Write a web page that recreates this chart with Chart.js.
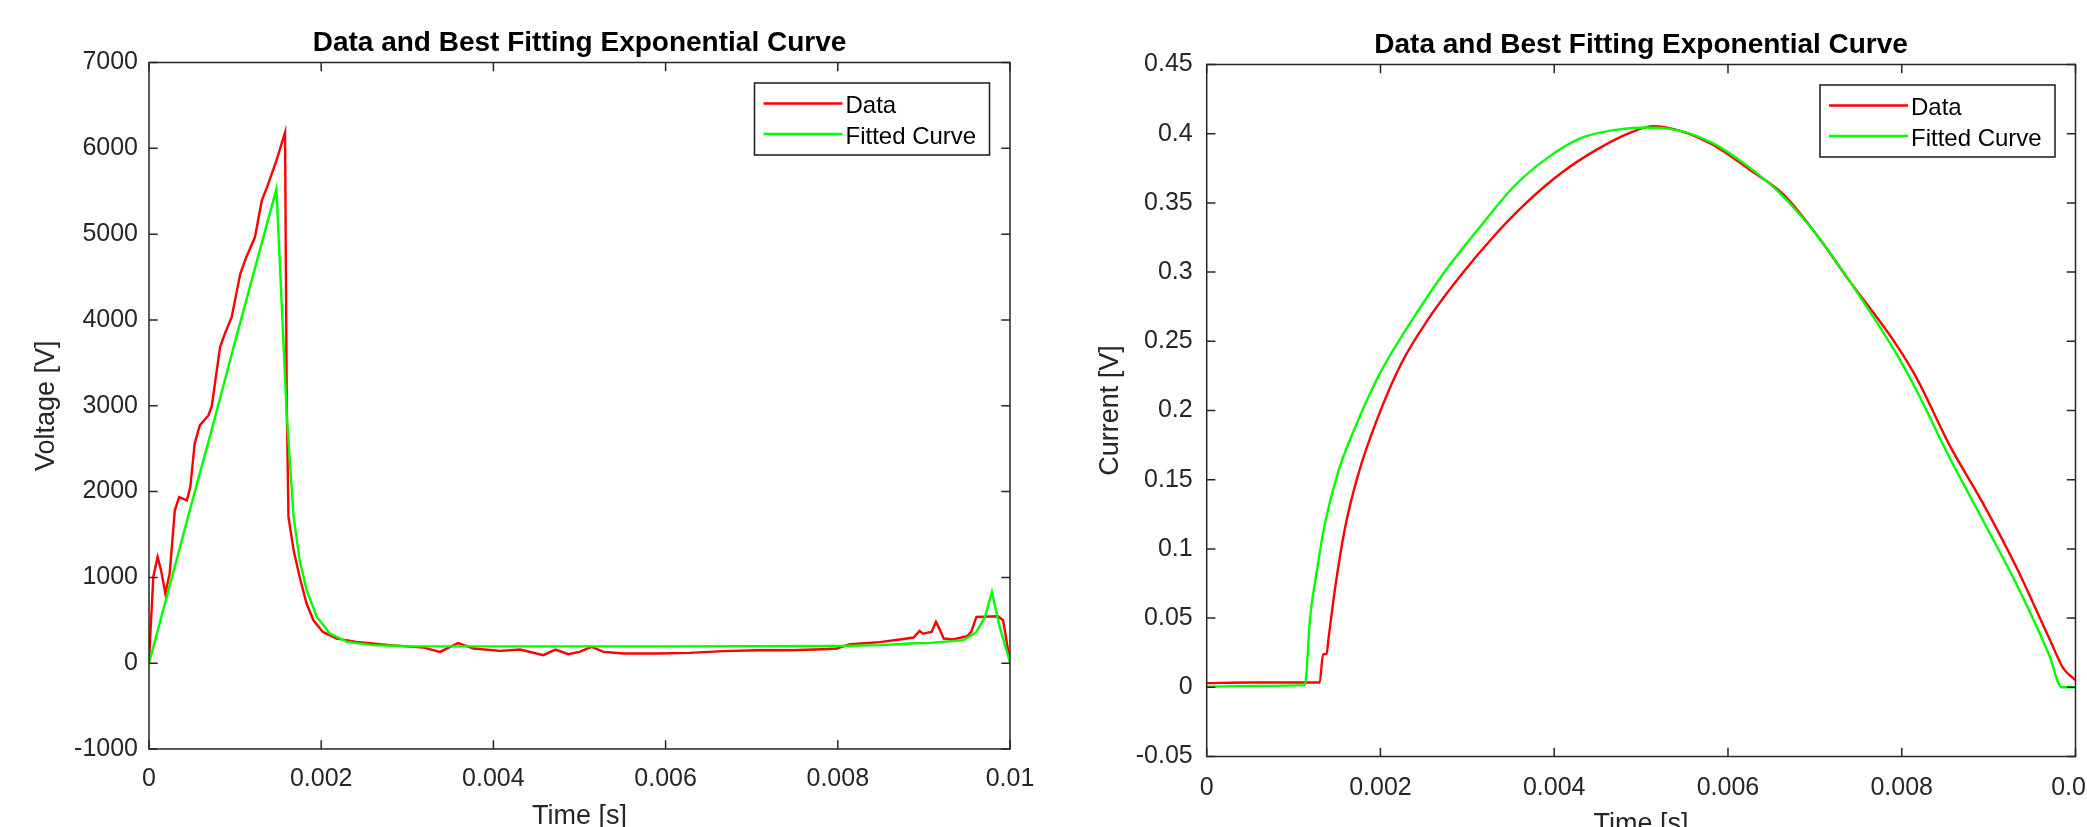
<!DOCTYPE html>
<html>
<head>
<meta charset="utf-8">
<script src="https://cdn.jsdelivr.net/npm/chart.js@4.4.1/dist/chart.umd.min.js"></script>
<style>
  html, body { margin: 0; padding: 0; background: #fff; width: 2087px; height: 827px; overflow: hidden; }
  .plot { position: absolute; top: 0; height: 850px; }
  #voltBox { left: 0; width: 1055px; }
  #currBox { left: 1050px; width: 1071px; }
</style>
</head>
<body>
<div class="plot" id="voltBox"><canvas id="voltageChart"></canvas></div>
<div class="plot" id="currBox"><canvas id="currentChart"></canvas></div>
<script>
// 坐标轴刻度
const timeTicks = [0, 0.002, 0.004, 0.006, 0.008, 0.01];
const timeTickLabels = ['0', '0.002', '0.004', '0.006', '0.008', '0.01'];
const voltageTicks = [-1000, 0, 1000, 2000, 3000, 4000, 5000, 6000, 7000];
const voltageTickLabels = ['-1000', '0', '1000', '2000', '3000', '4000', '5000', '6000', '7000'];
const currentTicks = [-0.05, 0, 0.05, 0.1, 0.15, 0.2, 0.25, 0.3, 0.35, 0.4, 0.45];
const currentTickLabels = ['-0.05', '0', '0.05', '0.1', '0.15', '0.2', '0.25', '0.3', '0.35', '0.4', '0.45'];

// 电压数据 (Data)
const voltageTime = [0, 0.00005, 0.0001, 0.00014, 0.00019, 0.00024, 0.0003, 0.00035, 0.00044, 0.00048,
  0.00053, 0.00059, 0.00069, 0.00073, 0.000825, 0.00088, 0.00096, 0.00106, 0.00113, 0.00123,
  0.00131, 0.00137, 0.00148, 0.00158, 0.0016, 0.00162, 0.00168, 0.00175, 0.00183, 0.00191,
  0.00202, 0.00218, 0.00241, 0.0028, 0.00319, 0.00338, 0.00359, 0.00377, 0.00408, 0.00431,
  0.00458, 0.00472, 0.00487, 0.005, 0.00514, 0.00528, 0.00551, 0.0059, 0.00628, 0.00667,
  0.00706, 0.00744, 0.00783, 0.00799, 0.00814, 0.00849, 0.00872, 0.00888, 0.00895, 0.00899,
  0.00909, 0.00914, 0.00917, 0.00923, 0.00934, 0.0095, 0.00955, 0.00961, 0.00986, 0.00992, 0.01];
const voltageData = [30, 1005, 1238, 1083, 811, 1044, 1781, 1936, 1898, 2052,
  2557, 2771, 2887, 3000, 3682, 3838, 4032, 4537, 4730, 4963,
  5390, 5545, 5856, 6185, 3000, 1703, 1315, 1005, 695, 500,
  364, 287, 248, 210, 182, 132, 235, 171, 143, 159,
  93, 159, 105, 132, 190, 132, 113, 113, 120, 140,
  151, 151, 163, 171, 221, 245, 276, 299, 376, 345,
  364, 481, 423, 287, 276, 314, 364, 539, 547, 500, 15];

// 电压拟合曲线 (Fitted Curve)
const voltageFitTime = [0, 0.0005, 0.00075, 0.001, 0.00148, 0.0016, 0.00164, 0.00168, 0.00175, 0.00183,
  0.00195, 0.0021, 0.0023, 0.0026, 0.003, 0.004, 0.006, 0.008, 0.00849, 0.00884,
  0.00907, 0.00946, 0.00961, 0.00971, 0.00979, 0.00988, 0.01];
const voltageFit = [0, 1880, 2800, 3750, 5525, 2900, 2285, 1703, 1199, 850,
  539, 345, 248, 210, 198, 196, 196, 200, 210, 229,
  237, 268, 364, 539, 830, 423, 15];

// 电流数据 (Data)
const currentTime = [0, 0.0005, 0.001, 0.0013, 0.00134, 0.00138, 0.0014, 0.00148, 0.00159, 0.00174,
  0.00197, 0.00224, 0.00255, 0.00293, 0.00332, 0.00366, 0.0041, 0.00449, 0.00487, 0.00514,
  0.00545, 0.00583, 0.00625, 0.00664, 0.00702, 0.0074, 0.0079, 0.00817, 0.00855, 0.00894,
  0.00932, 0.0097, 0.00986, 0.01];
const currentData = [0.003, 0.0035, 0.0035, 0.0035, 0.024, 0.024, 0.034, 0.0725, 0.1145, 0.153,
  0.195, 0.234, 0.266, 0.298, 0.327, 0.349, 0.3725, 0.3885, 0.4006, 0.4055,
  0.4021, 0.3918, 0.374, 0.356, 0.327, 0.2935, 0.251, 0.2236, 0.175, 0.1324,
  0.0867, 0.035, 0.0137, 0.0052];

// 电流拟合曲线 (Fitted Curve)
const currentFitTime = [0, 0.0006, 0.00113, 0.00119, 0.00127, 0.00136, 0.00151, 0.00171, 0.00197, 0.00214,
  0.00236, 0.00276, 0.00315, 0.00353, 0.00391, 0.0043, 0.00468, 0.00506, 0.00545, 0.00583,
  0.00621, 0.0066, 0.00702, 0.0074, 0.0079, 0.00817, 0.00855, 0.00894, 0.00932, 0.0097,
  0.00984, 0.01];
const currentFit = [0.0005, 0.001, 0.0016, 0.05, 0.085, 0.118, 0.155, 0.188, 0.224, 0.243,
  0.265, 0.302, 0.333, 0.3615, 0.382, 0.3966, 0.4026, 0.4045, 0.4021, 0.393,
  0.3773, 0.3569, 0.327, 0.2935, 0.245, 0.2145, 0.166, 0.12, 0.0746, 0.0228,
  0, 0];

Chart.defaults.font.family = '"Liberation Sans", Arial, sans-serif';
Chart.defaults.color = '#262626';

const toPoints = (xs, ys) => xs.map((x, i) => ({ x: x, y: ys[i] }));

// 坐标框、内向刻度和图例
const matlabAxes = {
  id: 'matlabAxes',
  afterDatasetsDraw(chart) {
    const { ctx, chartArea: a, scales: { x, y } } = chart;
    const tl = 8.7;
    ctx.save();
    ctx.strokeStyle = '#262626';
    ctx.lineWidth = 1.5;
    ctx.beginPath();
    x.ticks.forEach(t => {
      const px = x.getPixelForValue(t.value);
      ctx.moveTo(px, a.bottom); ctx.lineTo(px, a.bottom - tl);
      ctx.moveTo(px, a.top); ctx.lineTo(px, a.top + tl);
    });
    y.ticks.forEach(t => {
      const py = y.getPixelForValue(t.value);
      ctx.moveTo(a.left, py); ctx.lineTo(a.left + tl, py);
      ctx.moveTo(a.right, py); ctx.lineTo(a.right - tl, py);
    });
    ctx.stroke();
    ctx.strokeRect(a.left, a.top, a.right - a.left, a.bottom - a.top);

    // 图例
    const w = 235, h = 72;
    const left = a.right - 20.5 - w, top = a.top + 20.5;
    ctx.fillStyle = '#fff';
    ctx.fillRect(left, top, w, h);
    ctx.strokeStyle = '#262626';
    ctx.lineWidth = 1.6;
    ctx.strokeRect(left, top, w, h);
    ctx.font = '24px "Liberation Sans", Arial, sans-serif';
    ctx.textBaseline = 'middle';
    ctx.textAlign = 'left';
    chart.data.datasets.forEach((ds, i) => {
      const ry = top + 23.5 + i * 30.5;
      ctx.strokeStyle = ds.borderColor;
      ctx.lineWidth = 2.4;
      ctx.beginPath();
      ctx.moveTo(left + 9, ry - 3);
      ctx.lineTo(left + 88, ry - 3);
      ctx.stroke();
      ctx.fillStyle = '#000';
      ctx.fillText(ds.label, left + 91, ry);
    });
    ctx.restore();
  }
};

function makeChart(id, cfg) {
  return new Chart(document.getElementById(id).getContext('2d'), {
    type: 'line',
    data: {
      datasets: [{
        label: 'Data',
        data: toPoints(cfg.dataT, cfg.dataY),
        borderColor: '#ff0000',
        borderWidth: 2.4,
        pointRadius: 0,
        tension: 0,
        cubicInterpolationMode: cfg.smooth ? 'monotone' : 'default',
        order: 1
      }, {
        label: 'Fitted Curve',
        data: toPoints(cfg.fitT, cfg.fitY),
        borderColor: '#00ff00',
        borderWidth: 2.4,
        pointRadius: 0,
        tension: 0,
        cubicInterpolationMode: cfg.smooth ? 'monotone' : 'default',
        order: 0
      }]
    },
    options: {
      responsive: true,
      maintainAspectRatio: false,
      animation: false,
      devicePixelRatio: 1,
      layout: { padding: { left: 0, right: cfg.padRight, top: 0, bottom: 0 } },
      plugins: {
        legend: { display: false },
        tooltip: { enabled: false },
        title: {
          display: true,
          fullSize: false,
          text: 'Data and Best Fitting Exponential Curve',
          color: '#000',
          font: { size: 28, weight: 'bold' },
          padding: { top: cfg.titleTop, bottom: cfg.titleBottom }
        }
      },
      scales: {
        x: {
          type: 'linear',
          position: 'bottom',
          min: 0,
          max: 0.01,
          afterBuildTicks: s => { s.ticks = timeTicks.map(v => ({ value: v })); },
          afterFit: s => { s.height = cfg.xHeight; },
          grid: { display: false, drawTicks: false },
          border: { display: false },
          ticks: {
            font: { size: 25 },
            padding: cfg.xTickPad,
            maxRotation: 0,
            autoSkip: false,
            callback: (v, i) => timeTickLabels[i]
          },
          title: {
            display: true,
            text: 'Time [s]',
            font: { size: 27 },
            padding: { top: 0, bottom: cfg.xTitleBottom }
          }
        },
        y: {
          type: 'linear',
          min: cfg.yTicks[0],
          max: cfg.yTicks[cfg.yTicks.length - 1],
          afterBuildTicks: s => { s.ticks = cfg.yTicks.map(v => ({ value: v })); },
          afterFit: s => { s.width = cfg.yWidth; },
          grid: { display: false, drawTicks: false },
          border: { display: false },
          ticks: {
            font: { size: 25 },
            padding: cfg.yTickPad,
            autoSkip: false,
            callback: (v, i) => cfg.yLabels[i]
          },
          title: {
            display: true,
            text: cfg.yTitle,
            font: { size: 27 },
            padding: { top: cfg.yTitlePad, bottom: 0 }
          }
        }
      }
    },
    plugins: [matlabAxes]
  });
}

makeChart('voltageChart', {
  dataT: voltageTime, dataY: voltageData,
  fitT: voltageFitTime, fitY: voltageFit,
  yTicks: voltageTicks, yLabels: voltageTickLabels, yTitle: 'Voltage [V]',
  smooth: false,
  padRight: 45, titleTop: 26, titleBottom: 2.9,
  xHeight: 101, xTickPad: 15, xTitleBottom: 17,
  yWidth: 149, yTickPad: 11, yTitlePad: 30
});

makeChart('currentChart', {
  dataT: currentTime, dataY: currentData,
  fitT: currentFitTime, fitY: currentFit,
  yTicks: currentTicks, yLabels: currentTickLabels, yTitle: 'Current [V]',
  smooth: true,
  padRight: 45.5, titleTop: 28.7, titleBottom: 2.2,
  xHeight: 93.5, xTickPad: 17, xTitleBottom: 8.8,
  yWidth: 156.7, yTickPad: 14, yTitlePad: 44.8
});
</script>
</body>
</html>
